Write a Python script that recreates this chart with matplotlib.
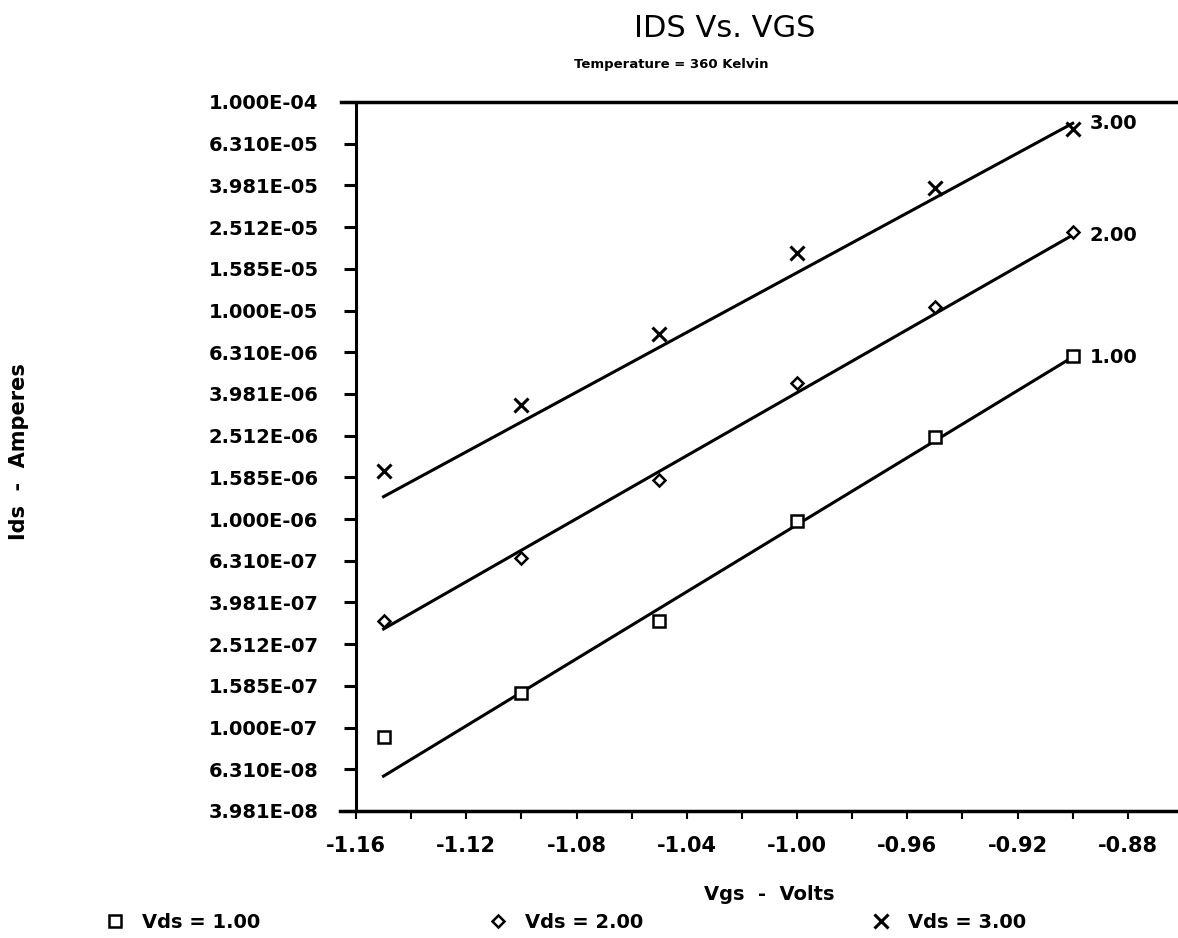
import matplotlib
matplotlib.use("Agg")
import matplotlib.pyplot as plt
import numpy as np
from matplotlib.ticker import FixedLocator, FuncFormatter, MultipleLocator

# gate voltage sweep (volts)
vgs = [-1.15, -1.10, -1.05, -1.00, -0.95, -0.90]

# measured drain current (amperes) for each drain voltage
ids_vds1 = [9.0e-8, 1.46e-7, 3.24e-7, 9.78e-7, 2.47e-6, 6.05e-6]
ids_vds2 = [3.24e-7, 6.50e-7, 1.54e-6, 4.49e-6, 1.04e-5, 2.38e-5]
ids_vds3 = [1.70e-6, 3.52e-6, 7.71e-6, 1.89e-5, 3.87e-5, 7.42e-5]

# fitted line end values at vgs[0] and vgs[-1]
fit_vds1 = [5.85e-8, 5.98e-6]
fit_vds2 = [2.97e-7, 2.30e-5]
fit_vds3 = [1.28e-6, 7.90e-5]

vds_labels = ["1.00", "2.00", "3.00"]

# y ticks every 0.2 decade from 1e-4 down
ytick_exp = np.arange(-4.0, -7.41, -0.2)
yticks = 10 ** ytick_exp

fig = plt.figure(figsize=(11.78, 9.38), dpi=100)
ax = fig.add_axes([0.3022, 0.1354, 0.6978, 0.7559])

series = [
    (ids_vds1, fit_vds1, "s", 9, 1.8),
    (ids_vds2, fit_vds2, "D", 6, 1.8),
    (ids_vds3, fit_vds3, "x", 10, 2.2),
]
for (ids, fit, mk, ms, mew), lab in zip(series, vds_labels):
    ax.plot(vgs, ids, linestyle="none", marker=mk, ms=ms, mew=mew,
            mfc="white", mec="black", label="Vds = " + lab, zorder=3)
    ax.plot([vgs[0], vgs[-1]], fit, color="black", lw=2.2, zorder=2)
    ax.annotate(lab, xy=(vgs[-1], fit[1]), xytext=(12, 0),
                textcoords="offset points", va="center", ha="left",
                fontsize=14, fontweight="bold")

ax.set_yscale("log")
ax.set_ylim(yticks[-1], yticks[0])
ax.set_xlim(-1.16, -0.8618)

ax.yaxis.set_major_locator(FixedLocator(yticks))
ax.yaxis.set_minor_locator(FixedLocator([]))
ax.yaxis.set_major_formatter(FuncFormatter(lambda v, p: f"{v:.3E}"))

ax.xaxis.set_major_locator(MultipleLocator(0.04))
ax.xaxis.set_minor_locator(MultipleLocator(0.02))
ax.xaxis.set_major_formatter(FuncFormatter(lambda v, p: f"{v:.2f}"))

ax.tick_params(axis="y", which="major", direction="out", length=9, width=2.2,
               pad=18, labelsize=14)
ax.tick_params(axis="x", which="both", direction="out", length=6, width=1.5,
               pad=12, labelsize=15)
for lab in ax.get_xticklabels() + ax.get_yticklabels():
    lab.set_fontweight("bold")

# plotter-style frame: left axis plus bottom/top rules running past it
for s in ["top", "right", "bottom"]:
    ax.spines[s].set_visible(False)
ax.spines["left"].set_linewidth(2.2)
ax.plot([-0.02, 1.0], [0, 0], transform=ax.transAxes, color="black",
        lw=2.5, clip_on=False)
ax.plot([-0.018, 1.0], [1, 1], transform=ax.transAxes, color="black",
        lw=2.5, clip_on=False)

fig.text(0.615, 0.970, "IDS Vs. VGS", ha="center", va="center", fontsize=22)
fig.text(0.570, 0.931, "Temperature = 360 Kelvin", ha="center", va="center",
         fontsize=9.5, fontweight="bold")
fig.text(0.653, 0.046, "Vgs  -  Volts", ha="center", va="center",
         fontsize=14, fontweight="bold")
fig.text(0.016, 0.519, "Ids  -  Amperes", ha="center", va="center",
         rotation=90, fontsize=15, fontweight="bold")

leg = ax.legend(loc="center left", bbox_to_anchor=(-0.326, -0.1566), ncol=3,
                frameon=False, fontsize=14, handlelength=1.0,
                handletextpad=0.9, columnspacing=11.7)
for t in leg.get_texts():
    t.set_fontweight("bold")

fig.savefig("out.png", dpi=100, facecolor="white")
